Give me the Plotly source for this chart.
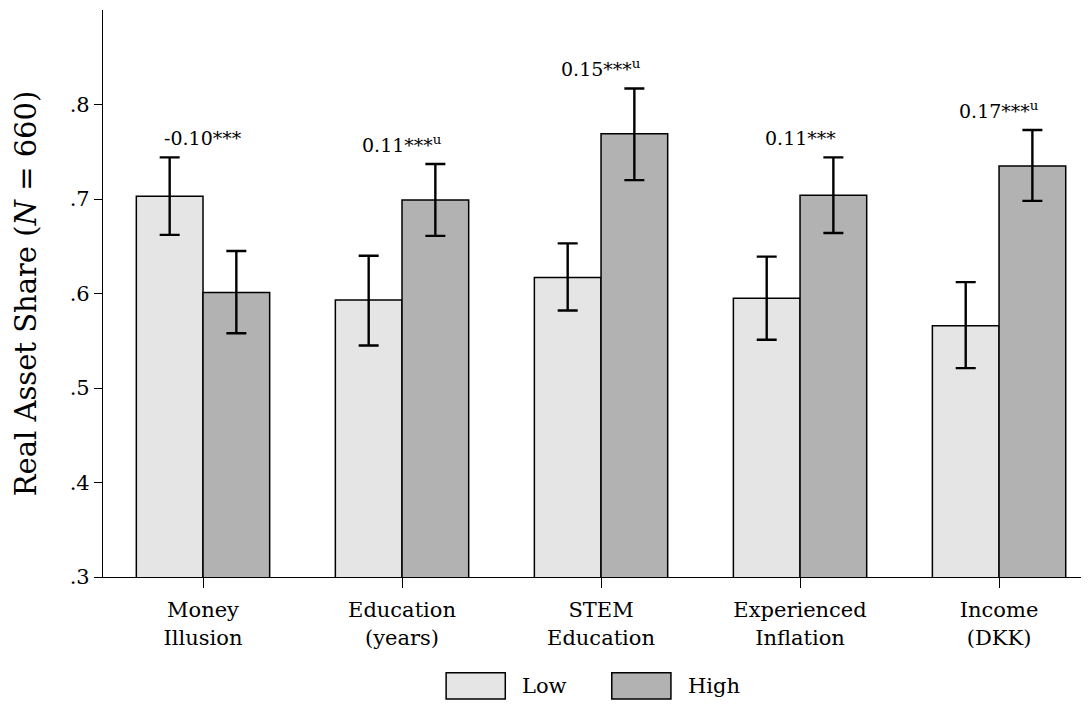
import plotly.graph_objects as go

categories = ["Money<br>Illusion", "Education<br>(years)", "STEM<br>Education", "Experienced<br>Inflation", "Income<br>(DKK)"]
low_mean = [0.703, 0.593, 0.617, 0.595, 0.566]
low_ci_lo = [0.662, 0.545, 0.582, 0.551, 0.521]
low_ci_hi = [0.744, 0.640, 0.653, 0.639, 0.612]
high_mean = [0.601, 0.699, 0.769, 0.704, 0.735]
high_ci_lo = [0.558, 0.661, 0.720, 0.664, 0.698]
high_ci_hi = [0.645, 0.737, 0.817, 0.744, 0.773]
diff_labels = ["-0.10***", "0.11***<sup>u</sup>", "0.15***<sup>u</sup>", "0.11***", "0.17***<sup>u</sup>"]
ytick_vals = [0.3, 0.4, 0.5, 0.6, 0.7, 0.8]
ytick_text = [".3", ".4", ".5", ".6", ".7", ".8"]

FONT = "DejaVu Serif"
x = list(range(len(categories)))

fig = go.Figure()
fig.add_trace(go.Bar(
    x=x, y=low_mean, name="Low",
    marker=dict(color="rgb(229,229,229)", line=dict(color="black", width=1.5)),
    error_y=dict(type="data", symmetric=False,
                 array=[h - m for h, m in zip(low_ci_hi, low_mean)],
                 arrayminus=[m - l for l, m in zip(low_ci_lo, low_mean)],
                 color="black", thickness=2.4, width=10),
))
fig.add_trace(go.Bar(
    x=x, y=high_mean, name="High",
    marker=dict(color="rgb(178,178,178)", line=dict(color="black", width=1.5)),
    error_y=dict(type="data", symmetric=False,
                 array=[h - m for h, m in zip(high_ci_hi, high_mean)],
                 arrayminus=[m - l for l, m in zip(high_ci_lo, high_mean)],
                 color="black", thickness=2.4, width=10),
))

for i, lab in enumerate(diff_labels):
    fig.add_annotation(x=x[i], y=max(low_ci_hi[i], high_ci_hi[i]), text=lab,
                       showarrow=False, yanchor="bottom", yshift=6,
                       font=dict(family=FONT, size=19, color="black"))

# legend drawn manually (large swatches)
legend_items = [("Low", "rgb(229,229,229)", 0.348), ("High", "rgb(178,178,178)", 0.516)]
for name, col, x0 in legend_items:
    fig.add_shape(type="rect", xref="paper", yref="paper", x0=x0, x1=x0 + 0.06,
                  y0=-0.215, y1=-0.169, fillcolor=col, line=dict(color="black", width=1.5))
    fig.add_annotation(xref="paper", yref="paper", x=x0 + 0.075, y=-0.192, text=name,
                       showarrow=False, xanchor="left", yanchor="middle",
                       font=dict(family=FONT, size=21, color="black"))

fig.update_layout(
    width=1081, height=697,
    margin=dict(l=95, r=0, t=2, b=128, autoexpand=False),
    plot_bgcolor="white", paper_bgcolor="white",
    barmode="group", bargap=0.33, bargroupgap=0,
    showlegend=False,
    font=dict(family=FONT, size=21, color="black"),
    xaxis=dict(tickmode="array", tickvals=x, ticktext=categories, automargin=False,
               range=[-0.5025, 4.452], showline=True, linecolor="black", linewidth=1.2,
               ticks="outside", ticklen=10, tickcolor="black", showgrid=False,
               ticklabelstandoff=4,
               tickfont=dict(family=FONT, size=21), zeroline=False),
    yaxis=dict(range=[0.3, 0.9], tickmode="array", tickvals=ytick_vals, ticktext=ytick_text,
               automargin=False,
               showline=True, linecolor="black", linewidth=1.2, ticks="outside", ticklen=8,
               tickcolor="black", showgrid=False, zeroline=False,
               tickfont=dict(family=FONT, size=21),
               title=dict(text="Real Asset Share (<i>N</i> = 660)", font=dict(family=FONT, size=29), standoff=24)),
)

fig.write_html("out.html")
